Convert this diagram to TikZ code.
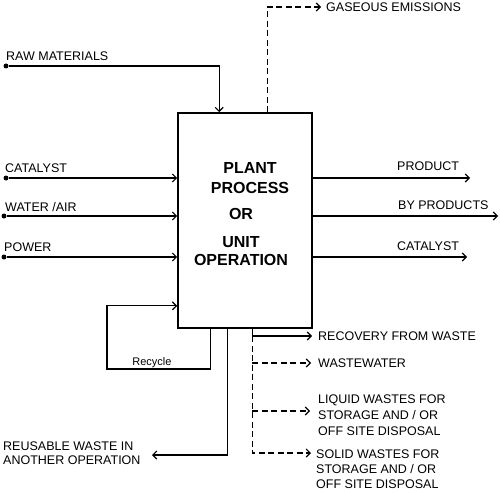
\documentclass[tikz,border=0pt]{standalone}
\usepackage{fontspec}
\setmainfont{Liberation Sans}
\usetikzlibrary{calc,arrows.meta}

\begin{document}
\begin{tikzpicture}[x=1pt,y=-1pt,>={Straight Barb[length=4pt,width=8pt]},
    flow/.style={line width=1.1pt},
    waste/.style={flow,dash pattern=on 6pt off 3.5pt},
    lbl/.style={anchor=north west,inner sep=0pt,align=left,font=\fontsize{12.5}{16}\selectfont},
    boxtxt/.style={anchor=base,inner sep=0pt,font=\fontsize{16}{19}\selectfont\bfseries},
    dot/.style={circle,fill,inner sep=0pt,minimum size=5pt}]
    \useasboundingbox (0,0) rectangle (500,492);

    % the plant
    \node[draw,line width=1.7pt,minimum width=134pt,minimum height=215pt] (plant) at (245,220.5) {};
    \foreach \t/\x/\y [count=\i] in {PLANT/250/173, PROCESS/250/193, OR/241/219, UNIT/241/247, OPERATION/241/265}
      {\node[boxtxt] (plant-\i) at (\x,\y) {\t};}

    % inputs
    \node[dot] (raw) at (6,66) {};
    \node[lbl] (raw-lbl) at (6,52) {RAW MATERIALS};
    \coordinate (raw-in) at ($(plant.north west)+(42,0)$);
    \draw[flow,->] (raw) -| (raw-in);

    \node[dot] (cat-in) at (6,178) {};
    \node[lbl] (cat-in-lbl) at (5,164) {CATALYST};
    \node[dot] (water) at (4,216) {};
    \node[lbl] (water-lbl) at (5,202) {WATER /AIR};
    \node[dot] (power) at (4,257) {};
    \node[lbl] (power-lbl) at (4,243) {POWER};
    \draw[flow,->] (cat-in) -- (cat-in -| plant.west);
    \draw[flow,->] (water) -- (water -| plant.west);
    \draw[flow,->] (power) -- (power -| plant.west);

    % outputs
    \coordinate (product) at (470,178);
    \coordinate (byprod) at (498,216);
    \coordinate (cat-out) at (467,257);
    \node[lbl] (product-lbl) at (397,162) {PRODUCT};
    \node[lbl] (byprod-lbl) at (398,201) {BY PRODUCTS};
    \node[lbl] (cat-out-lbl) at (397,242) {CATALYST};
    \draw[flow,->] (product -| plant.east) -- (product);
    \draw[flow,->] (byprod -| plant.east) -- (byprod);
    \draw[flow,->] (cat-out -| plant.east) -- (cat-out);

    \coordinate (gas-top) at ($(plant.north west)+(90,0)$);
    \coordinate (gas) at (321,7);
    \node[lbl] (gas-lbl) at (326,2.5) {GASEOUS EMISSIONS};
    \draw[waste,->] (gas-top) |- (gas);

    % recycle and reuse
    \coordinate (rec-out) at ($(plant.south west)+(33,0)$);
    \coordinate (rec-corner) at (107,369);
    \coordinate (rec-in) at ($(plant.south west)+(0,-23)$);
    \draw[flow,->] (rec-out) |- (rec-corner) |- (rec-in);
    \node[anchor=base,inner sep=0pt,font=\fontsize{11}{13}\selectfont] (recycle-lbl) at (152,365) {Recycle};

    \coordinate (reuse-out) at ($(plant.south west)+(50,0)$);
    \coordinate (reuse) at (152,455);
    \draw[flow,->] (reuse-out) |- (reuse);
    \node[lbl,font=\fontsize{12.5}{13.5}\selectfont] (reuse-lbl) at (3,442) {REUSABLE WASTE IN\\ANOTHER OPERATION};

    % wastes
    \coordinate (waste-top) at ($(plant.south west)+(75,0)$);
    \coordinate (recovery) at (312,336);
    \coordinate (wastewater) at (311,363);
    \coordinate (liquid) at (310,411);
    \coordinate (solid) at (311,453);
    \draw[flow,->] (waste-top) |- (recovery);
    \draw[waste,->] (waste-top |- recovery) |- (solid);
    \draw[waste,->] (waste-top |- wastewater) -- (wastewater);
    \draw[waste,->] (waste-top |- liquid) -- (liquid);
    \node[lbl] (recovery-lbl) at (318,332) {RECOVERY FROM WASTE};
    \node[lbl] (wastewater-lbl) at (318,359) {WASTEWATER};
    \node[lbl] (liquid-lbl) at (318,395) {LIQUID WASTES FOR\\STORAGE AND / OR\\OFF SITE DISPOSAL};
    \node[lbl,font=\fontsize{12.5}{15}\selectfont] (solid-lbl) at (316,450) {SOLID WASTES FOR\\STORAGE AND / OR\\OFF SITE DISPOSAL};
\end{tikzpicture}
\end{document}
